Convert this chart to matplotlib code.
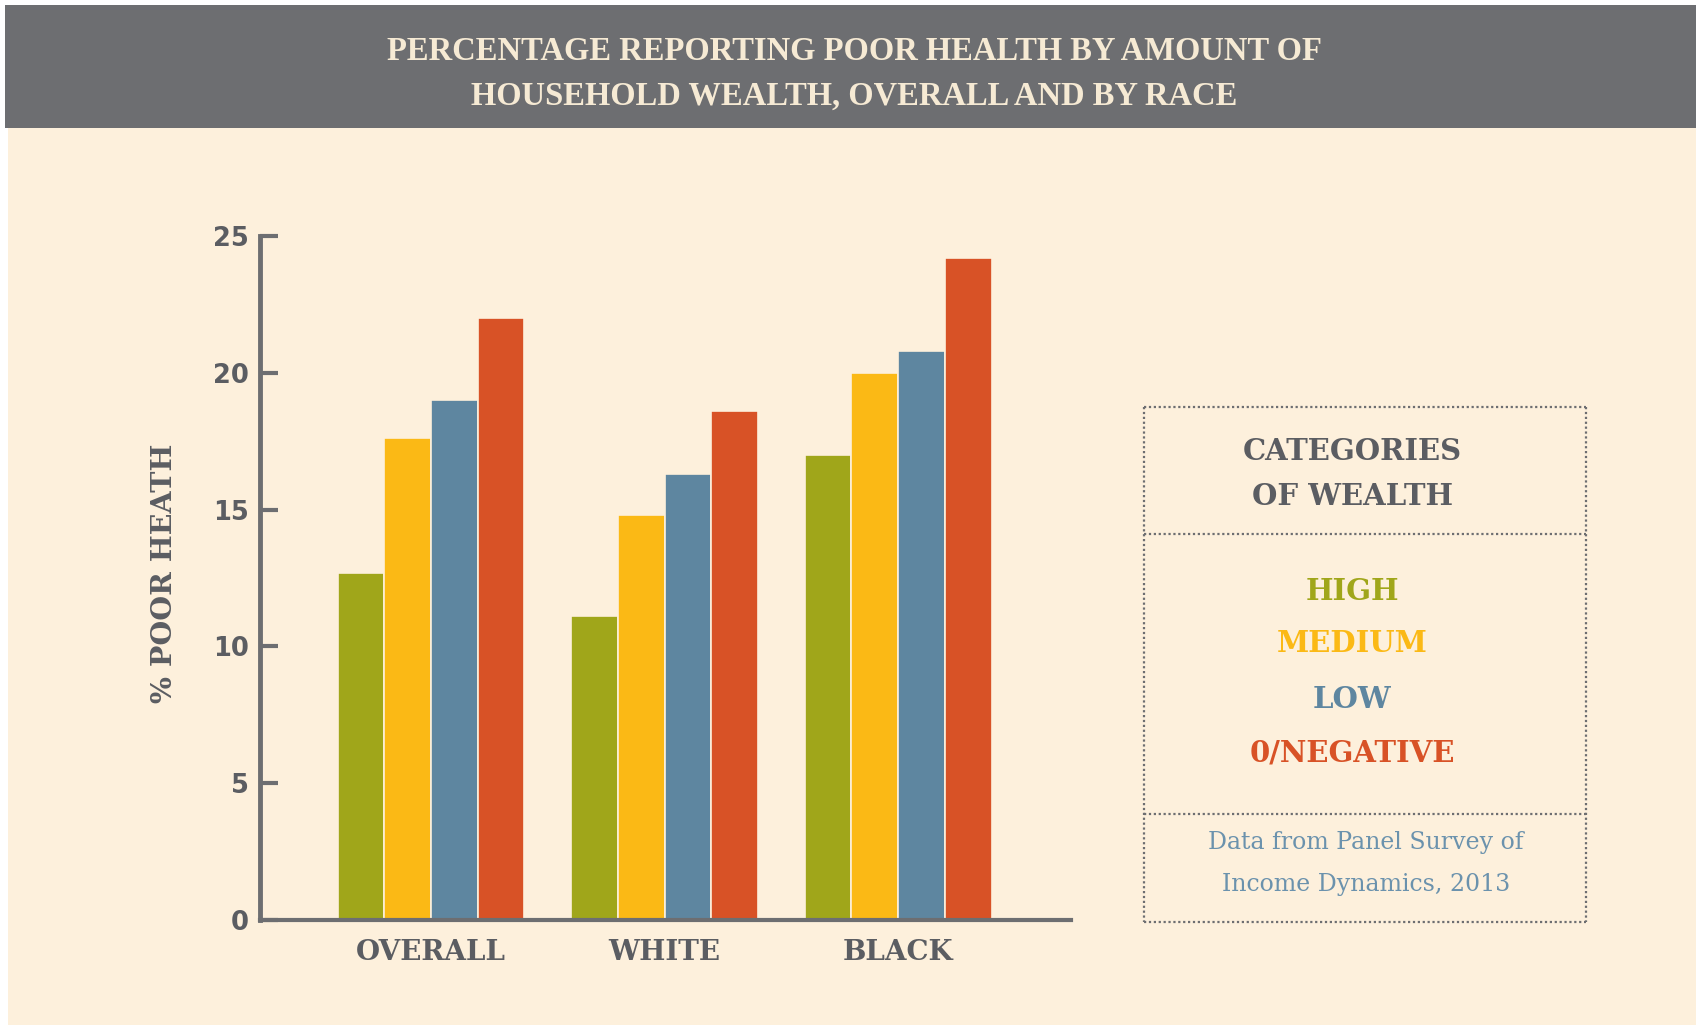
import matplotlib
matplotlib.use("Agg")
import matplotlib.pyplot as plt
from matplotlib.patches import Rectangle
import numpy as np

groups = ["OVERALL", "WHITE", "BLACK"]
series = ["HIGH", "MEDIUM", "LOW", "0/NEGATIVE"]
high = [12.7, 11.1, 17.0]
medium = [17.6, 14.8, 20.0]
low = [19.0, 16.3, 20.8]
negative = [22.0, 18.6, 24.2]
yticks = [0, 5, 10, 15, 20, 25]

colors = ["#a0a61a", "#fbb915", "#5e86a0", "#d85226"]
BG = "#fdf0dc"
HEAD = "#6d6e71"
AX = "#6d6e71"
TXT = "#5b5d62"

W, H = 1696, 1028
fig = plt.figure(figsize=(W / 100, H / 100), dpi=100)
fig.patch.set_facecolor("white")

# cream background and header band
fig.add_artist(Rectangle((8 / W, 1 - 1025 / H), (W - 8) / W, (1025 - 128) / H,
                         transform=fig.transFigure, facecolor=BG, edgecolor="none", zorder=0))
fig.add_artist(Rectangle((5 / W, 1 - 128 / H), (W - 5) / W, (128 - 5) / H,
                         transform=fig.transFigure, facecolor=HEAD, edgecolor="none", zorder=0))
fig.text(854 / W, 1 - 52 / H, "PERCENTAGE REPORTING POOR HEALTH BY AMOUNT OF",
         ha="center", va="center", color="#f6ead4", fontsize=23.5, fontweight="bold",
         family="Liberation Serif")
fig.text(854 / W, 1 - 96 / H, "HOUSEHOLD WEALTH, OVERALL AND BY RACE",
         ha="center", va="center", color="#f6ead4", fontsize=23.5, fontweight="bold",
         family="Liberation Serif")

# axes
x0, x1 = 260, 1071
y0, y1 = 920, 236
ax = fig.add_axes([x0 / W, 1 - y0 / H, (x1 - x0) / W, (y0 - y1) / H])
ax.set_facecolor("none")
values = [high, medium, low, negative]
x = np.arange(len(groups))
step = 0.2
for i, (vals, c) in enumerate(zip(values, colors)):
    ax.bar(x + (i - 1.5) * step, vals, width=step, color=c, edgecolor="#fdf0dc",
           linewidth=1.2, zorder=2)
ax.set_ylim(0, 25)
ax.set_xlim(-0.732, 2.74)
ax.set_yticks(yticks)
ax.set_yticklabels([str(t) for t in yticks], fontsize=18.5, fontweight="bold", color=TXT,
                   family="DejaVu Sans")
ax.set_xticks(x)
ax.set_xticklabels(groups, fontsize=20, fontweight="bold", color=TXT, family="DejaVu Serif")
ax.tick_params(axis="y", direction="in", length=13, width=3, color=AX, pad=8)
ax.tick_params(axis="x", length=0, pad=14)
for s in ["top", "right"]:
    ax.spines[s].set_visible(False)
ax.spines["left"].set_linewidth(3.5)
ax.spines["left"].set_color(AX)
ax.spines["bottom"].set_linewidth(3)
ax.spines["bottom"].set_color(AX)
ax.spines["left"].set_zorder(3)
ax.set_ylabel("% POOR HEATH", fontsize=20.5, fontweight="bold", color=TXT,
              family="DejaVu Serif")
ax.yaxis.set_label_coords((178 - x0) / (x1 - x0), (y0 - 573) / (y0 - y1))

# legend box
bx0, bx1, by0, by1 = 1144, 1586, 407, 922
d1, d2 = 534, 814
lk = dict(transform=fig.transFigure, color="#6d6e71", linewidth=1.6, linestyle=(0, (1, 1.2)))
for yy in [by0, d1, d2, by1]:
    fig.add_artist(plt.Line2D([bx0 / W, bx1 / W], [1 - yy / H, 1 - yy / H], **lk))
for xx in [bx0, bx1]:
    fig.add_artist(plt.Line2D([xx / W, xx / W], [1 - by0 / H, 1 - by1 / H], **lk))
cx = 1352 / W
fig.text(cx, 1 - 452 / H, "CATEGORIES", ha="center", va="center", fontsize=21,
         fontweight="bold", color=TXT, family="DejaVu Serif")
fig.text(cx, 1 - 496 / H, "OF WEALTH", ha="center", va="center", fontsize=21,
         fontweight="bold", color=TXT, family="DejaVu Serif")
for lab, c, yy in zip(series, colors, [591, 644, 699, 753]):
    fig.text(cx, 1 - yy / H, lab, ha="center", va="center", fontsize=21,
             fontweight="bold", color=c, family="DejaVu Serif")
fig.text(1366 / W, 1 - 843 / H, "Data from Panel Survey of", ha="center", va="center",
         fontsize=17, color="#6b92ad", family="DejaVu Serif")
fig.text(1366 / W, 1 - 884 / H, "Income Dynamics, 2013", ha="center", va="center",
         fontsize=17, color="#6b92ad", family="DejaVu Serif")

fig.savefig("out.png", dpi=100, facecolor=fig.get_facecolor())
